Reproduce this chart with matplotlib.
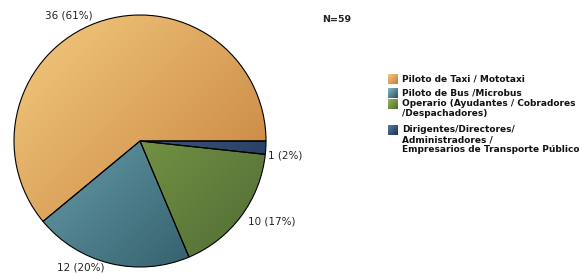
import matplotlib.pyplot as plt
import numpy as np
from matplotlib.colors import LinearSegmentedColormap

# data
categories = ["Piloto de Taxi / Mototaxi",
              "Piloto de Bus /Microbus",
              "Operario (Ayudantes / Cobradores\n/Despachadores)",
              "Dirigentes/Directores/\nAdministradores /\nEmpresarios de Transporte Público"]
values = [36, 12, 10, 1]
pct_labels = ["36 (61%)", "12 (20%)", "10 (17%)", "1 (2%)"]
light = ["#F4CB80", "#82BBC8", "#97B852", "#5A7CA6"]
dark = ["#C27A38", "#28525F", "#4F6A35", "#1A3050"]

W, H = 579, 276
fig = plt.figure(figsize=(W / 100, H / 100), dpi=100)
ax = fig.add_axes([0, 0, 1, 1])

cx, cy, r = 140, 135, 126
wedges, _ = ax.pie(values, center=(cx, cy), radius=r, startangle=0, counterclock=True,
                   wedgeprops=dict(edgecolor='black', linewidth=0.8), frame=True)

# diagonal gradient fill, light upper-left to dark lower-right
n = 200
gx, gy = np.meshgrid(np.linspace(0, 1, n), np.linspace(0, 1, n))
grad = (gx + gy) / 2
for w, c0, c1 in zip(wedges, light, dark):
    w.set_facecolor('none')
    cmap = LinearSegmentedColormap.from_list('g', [c0, c1])
    im = ax.imshow(grad, cmap=cmap, extent=(cx - r, cx + r, cy - r, cy + r),
                   origin='upper', zorder=0.5, interpolation='bilinear')
    im.set_clip_path(w)

# value labels
label_pos = [(69, 260), (81, 8), (272, 54), (285, 121)]
for txt, (x, y) in zip(pct_labels, label_pos):
    ax.text(x, y, txt, fontsize=7.5, ha='center', va='center', color='#222222')

ax.text(337, 256, "N=59", fontsize=6.8, fontweight='bold', ha='center', va='center', color='#222222')

# legend
ytops = [201, 187, 176, 150]
for lab, yt, c0, c1 in zip(categories, ytops, light, dark):
    ax.imshow(grad, cmap=LinearSegmentedColormap.from_list('g', [c0, c1]),
              extent=(388, 397.5, yt - 9.5, yt), origin='upper', zorder=2)
    ax.text(402, yt + 0.5, lab, fontsize=6.5, fontweight='bold', ha='left', va='top',
            linespacing=1.1, color='#111111')

ax.set_xlim(0, W)
ax.set_ylim(0, H)
ax.set_aspect('equal')
ax.axis('off')
fig.savefig('out.png', dpi=100)
